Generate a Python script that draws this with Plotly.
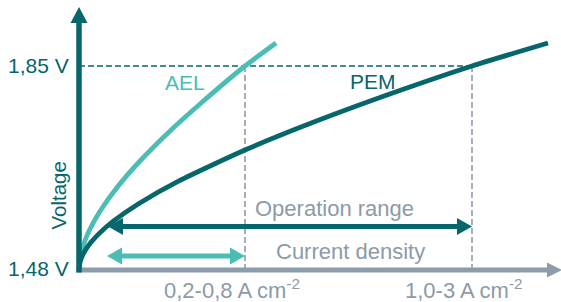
import plotly.graph_objects as go

# ---------------- data ----------------
ael_j = [0, 0.01, 0.03, 0.06, 0.11, 0.21, 0.38, 0.61, 0.90, 1.25, 1.66, 1.97]
ael_v = [1.480, 1.5009, 1.5172, 1.5335, 1.5544, 1.5865, 1.6296, 1.6777, 1.7305, 1.7874,
         1.85, 1.8917]
pem_j = [0, 0.01, 0.03, 0.06, 0.11, 0.20, 0.35, 0.60, 1.00, 1.66, 2.40, 3.20, 3.93, 4.69]
pem_v = [1.480, 1.4939, 1.5043, 1.5148, 1.5279, 1.5460, 1.5694, 1.6006, 1.6416, 1.6976,
         1.7519, 1.8050, 1.85, 1.8917]
v_ticks = [1.48, 1.85]
v_tick_labels = ["1,48 V", "1,85 V"]
range_ends = [1.66, 3.93]            # AEL (0,8 A cm-2), PEM (3 A cm-2)
range_starts = [0.28, 0.29]
range_labels = ["0,2-0,8 A cm<sup>-2</sup>", "1,0-3 A cm<sup>-2</sup>"]

# ---------------- styling ----------------
DARK = "#05666b"
LIGHT = "#4bbdb5"
GRAY = "#8c9cab"
TGRAY = "#8d9aa7"
FONT = "Liberation Sans, Arial, sans-serif"

W, H = 561, 302
K = 0.37 / 204.0          # volts per pixel
def X(px):
    return (px - 79) / 100.0
def Y(py):
    return 1.48 + (270 - py) * K
def PX(x):
    return 79 + x * 100.0
def PY(v):
    return 270 - (v - 1.48) / K

fig = go.Figure()
fig.add_trace(go.Scatter(x=ael_j, y=ael_v, mode="lines",
                         line=dict(color=LIGHT, width=4.8, shape="spline", smoothing=0.6),
                         hoverinfo="skip"))
fig.add_trace(go.Scatter(x=pem_j, y=pem_v, mode="lines",
                         line=dict(color=DARK, width=4.8, shape="spline", smoothing=0.6),
                         hoverinfo="skip"))

shapes = []
# 1.85 V dashed line
shapes.append(dict(type="line", xref="x", yref="y", x0=0, x1=range_ends[1],
                   y0=v_ticks[1], y1=v_ticks[1], layer="below",
                   line=dict(color=DARK, width=1.6, dash="6px,3px")))
for xe in range_ends:
    shapes.append(dict(type="line", xref="x", yref="y", x0=xe, x1=xe,
                       y0=v_ticks[0], y1=v_ticks[1], layer="below",
                       line=dict(color=GRAY, width=1.6, dash="6px,3px")))

def head(tx, ty, dx, dy, hl, hw, color):
    # tip at pixel (tx,ty), direction unit (dx,dy)
    bx, by = tx - dx * hl, ty - dy * hl
    nx, ny = -dy, dx
    pts = [(tx, ty), (bx + nx * hw / 2, by + ny * hw / 2), (bx - nx * hw / 2, by - ny * hw / 2)]
    path = "M " + " L ".join(f"{X(p[0]):.5f},{Y(p[1]):.5f}" for p in pts) + " Z"
    shapes.append(dict(type="path", xref="x", yref="y", path=path, layer="above",
                       fillcolor=color, line=dict(width=0)))

def arrow(x0, y0, x1, y1, color, width, hl, hw, both=False):
    p0x, p0y, p1x, p1y = PX(x0), PY(y0), PX(x1), PY(y1)
    L = ((p1x - p0x) ** 2 + (p1y - p0y) ** 2) ** 0.5
    ux, uy = (p1x - p0x) / L, (p1y - p0y) / L
    sx, sy = (p0x + ux * (hl - 1), p0y + uy * (hl - 1)) if both else (p0x, p0y)
    ex, ey = p1x - ux * (hl - 1), p1y - uy * (hl - 1)
    shapes.append(dict(type="line", xref="x", yref="y", x0=X(sx), y0=Y(sy), x1=X(ex), y1=Y(ey),
                       layer="above", line=dict(color=color, width=width)))
    head(p1x, p1y, ux, uy, hl, hw, color)
    if both:
        head(p0x, p0y, -ux, -uy, hl, hw, color)

# axes
arrow(X(76.5), v_ticks[0], X(562), v_ticks[0], GRAY, 5, 15, 15)
arrow(0, Y(272.5), 0, Y(7), DARK, 5.5, 16, 17)
# range arrows
arrow(range_starts[1], Y(226.5), range_ends[1], Y(226.5), DARK, 5, 15, 17, both=True)
arrow(range_starts[0], Y(256), range_ends[0], Y(256), LIGHT, 5, 15, 17, both=True)

ann = []
def text(s, px, py, color, size, xanchor="center", angle=0):
    ann.append(dict(x=X(px), y=Y(py), xref="x", yref="y", text=s, showarrow=False,
                    xanchor=xanchor, yanchor="middle", textangle=angle,
                    font=dict(family=FONT, size=size, color=color)))

text(v_tick_labels[1], 71, 65.5, DARK, 21, "right")
text(v_tick_labels[0], 71, 268.5, DARK, 21, "right")
text("Voltage", 57.5, 196, DARK, 20.5, angle=-90)
text("AEL", 185, 82, LIGHT, 21)
text("PEM", 372.5, 81, DARK, 21)
text("Operation range", 334.5, 208, TGRAY, 22)
text("Current density", 350.5, 251, TGRAY, 22)
text(range_labels[0], 231.5, 289, TGRAY, 22)
text(range_labels[1], 464, 289, TGRAY, 22)

fig.update_layout(
    width=W, height=H, margin=dict(l=0, r=0, t=0, b=0, pad=0),
    paper_bgcolor="white", plot_bgcolor="white", showlegend=False,
    xaxis=dict(range=[X(0), X(W)], visible=False, fixedrange=True),
    yaxis=dict(range=[Y(H), Y(0)], visible=False, fixedrange=True),
    shapes=shapes, annotations=ann,
)
fig.write_html("out.html", config={"displayModeBar": False},
               post_script="document.body.style.margin='0';document.body.style.padding='0';")
